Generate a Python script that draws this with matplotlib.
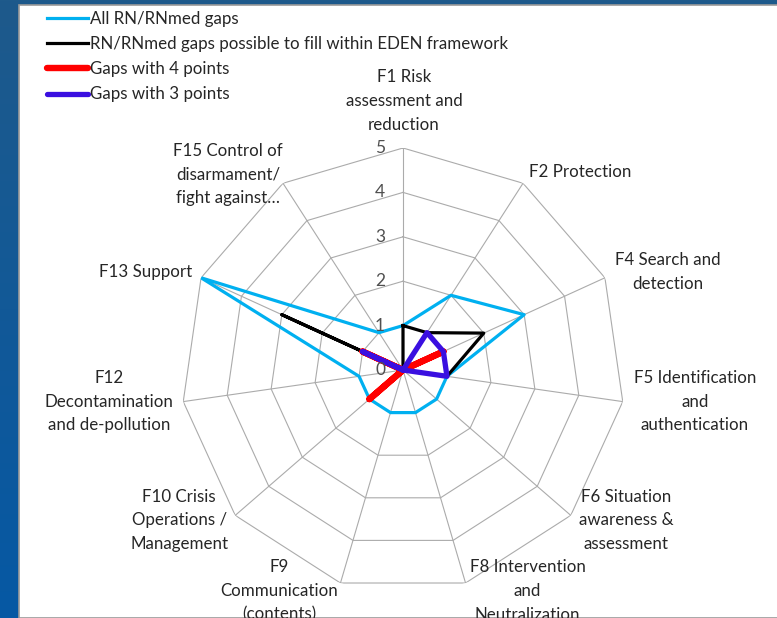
import numpy as np
import matplotlib
matplotlib.use("Agg")
import matplotlib.pyplot as plt
from matplotlib.patches import Rectangle
from matplotlib.colors import LinearSegmentedColormap

plt.rcParams['font.family'] = ['Lato', 'DejaVu Sans']

# ---- data ----
categories = [
    "F1 Risk\nassessment and\nreduction",
    "F2 Protection",
    "F4 Search and\ndetection",
    "F5 Identification\nand\nauthentication",
    "F6 Situation\nawareness &\nassessment",
    "F8 Intervention\nand\nNeutralization",
    "F9\nCommunication\n(contents)",
    "F10 Crisis\nOperations /\nManagement",
    "F12\nDecontamination\nand de-pollution",
    "F13 Support",
    "F15 Control of\ndisarmament/\nfight against\u2026",
]
all_gaps = [1, 2, 3, 1, 1, 1, 1, 1, 1, 5, 1]
eden_gaps = [1, 1, 2, 1, 0, 0, 0, 0, 0, 3, 0]
gaps_4pts = [0, 0, 1, 0, 0, 0, 0, 1, 0, 1, 0]
gaps_3pts = [0, 1, 1, 1, 0, 0, 0, 0, 0, 1, 0]
r_ticks = [0, 1, 2, 3, 4, 5]

# label placement: alignment + pixel offset from the outer vertex
label_style = [
    ("center", 1, 47), ("left", 6, 11), ("left", 10, 6), ("left", 11, 0),
    ("left", 8, -5), ("left", 4, -8), ("right", -2, -8), ("right", -7, -5),
    ("right", -10, 0), ("right", -9, 6), ("right", 0, 9),
]

W, H = 777, 618
fig = plt.figure(figsize=(W / 100, H / 100), dpi=100)

# blue slide background with white chart area
bg = fig.add_axes([0, 0, 1, 1], zorder=-10)
cmap = LinearSegmentedColormap.from_list("slide", ["#1e5a8b", "#0658a4"])
bg.imshow(np.linspace(0, 1, 256).reshape(-1, 1), aspect="auto", cmap=cmap,
          extent=[0, 1, 0, 1])
bg.add_patch(Rectangle((19 / W, 0), 1, 1 - 5 / H, facecolor="white",
                       edgecolor="#9a9a9a", lw=1.2))
bg.set_xlim(0, 1)
bg.set_ylim(0, 1)
bg.axis("off")

cx, cy, R = 403, 370, 222
ax = fig.add_axes([(cx - R) / W, (H - cy - R) / H, 2 * R / W, 2 * R / H],
                  projection="polar")
ax.set_theta_offset(np.pi / 2)
ax.set_theta_direction(-1)
ax.set_ylim(0, 5)
ax.grid(False)
ax.set_xticks([])
ax.set_yticks([])
ax.spines["polar"].set_visible(False)
ax.patch.set_alpha(0)

n = len(categories)
theta = np.linspace(0, 2 * np.pi, n, endpoint=False)
theta_c = np.append(theta, theta[0])

def closed(vals):
    return np.append(vals, vals[0])

grid_col = "#ababab"
for lvl in r_ticks[1:]:
    ax.plot(theta_c, [lvl] * (n + 1), color=grid_col, lw=0.8, zorder=1)
for t in theta:
    ax.plot([t, t], [0, 5], color=grid_col, lw=0.8, zorder=1)

l1, = ax.plot(theta_c, closed(all_gaps), color="#00b0f0", lw=2.3, zorder=3,
              label="All RN/RNmed gaps")
l2, = ax.plot(theta_c, closed(eden_gaps), color="black", lw=2.3, zorder=4,
              label="RN/RNmed gaps possible to fill within EDEN framework")
l3, = ax.plot(theta_c, closed(gaps_4pts), color="#ff0000", lw=4.6, zorder=5,
              solid_capstyle="round", solid_joinstyle="round",
              label="Gaps with 4 points")
l4, = ax.plot(theta_c, closed(gaps_3pts), color="#3a0fe0", lw=3.8, zorder=6,
              solid_capstyle="round", solid_joinstyle="round",
              label="Gaps with 3 points")

txt_col = "#262626"
for t, lab, (ha, dx, dy) in zip(theta, categories, label_style):
    ax.annotate(lab, xy=(t, 5), xytext=(dx * 0.72, dy * 0.72),
                textcoords="offset points", ha=ha, va="center",
                multialignment="center", fontsize=12.2, color=txt_col,
                linespacing=1.58, annotation_clip=False)

for v in r_ticks:
    ax.annotate(str(v), xy=(0, v), xytext=(-23 * 0.72, 0),
                textcoords="offset points", ha="center", va="center",
                fontsize=12.5, color="#505050", annotation_clip=False, zorder=7)

fig.legend(handles=[l1, l2, l3, l4], loc="upper left",
           bbox_to_anchor=(47 / W, 1 - 11 / H), frameon=False,
           fontsize=12.2, handlelength=2.4, handletextpad=0.15,
           labelspacing=0.54, borderpad=0, borderaxespad=0,
           labelcolor=txt_col)

fig.savefig("out.png", dpi=100)
